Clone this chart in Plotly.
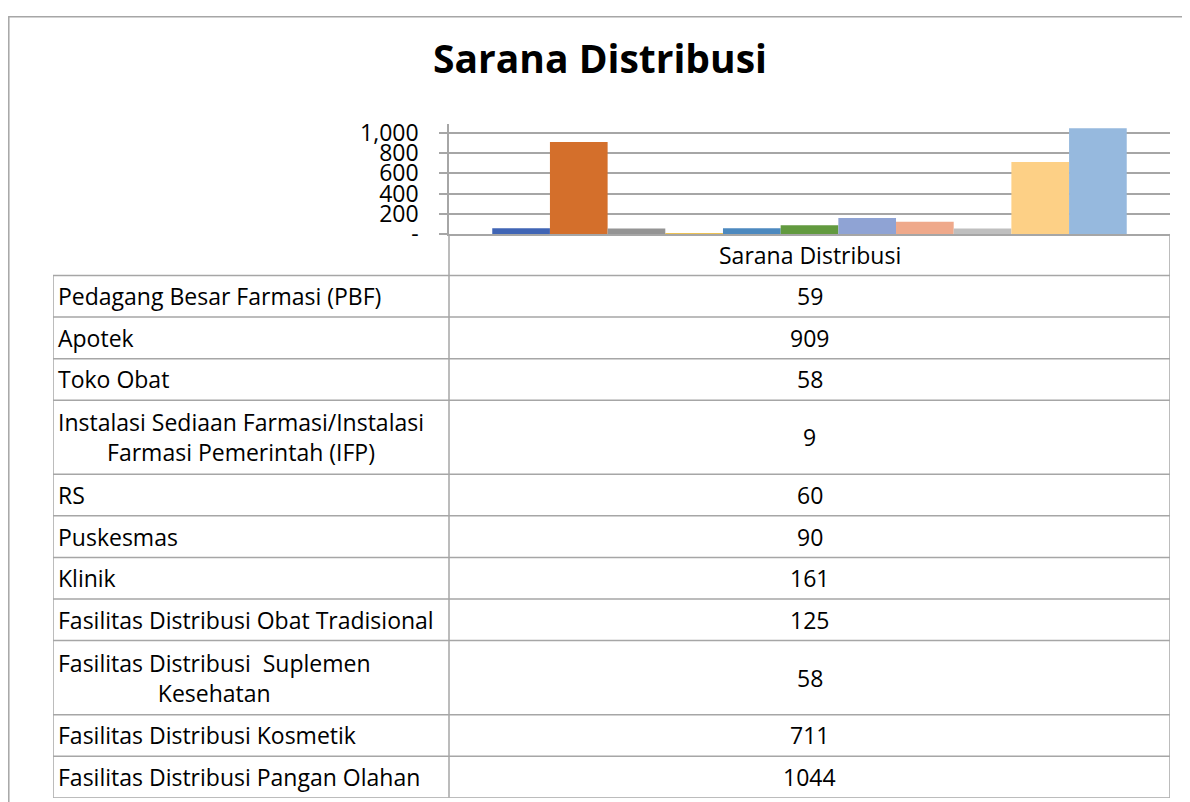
import plotly.graph_objects as go

# ==========================
# DATA
# ==========================

TITLE = "Sarana Distribusi"
CATEGORY = "Sarana Distribusi"

labels = [
    "Pedagang Besar Farmasi (PBF)",
    "Apotek",
    "Toko Obat",
    "Instalasi Sediaan Farmasi/Instalasi Farmasi Pemerintah (IFP)",
    "RS",
    "Puskesmas",
    "Klinik",
    "Fasilitas Distribusi Obat Tradisional",
    "Fasilitas Distribusi  Suplemen Kesehatan",
    "Fasilitas Distribusi Kosmetik",
    "Fasilitas Distribusi Pangan Olahan",
]

values = [59, 909, 58, 9, 60, 90, 161, 125, 58, 711, 1044]

colors = [
    "#4065B5", "#D46F2B", "#949494", "#E6AD1A", "#4C89BF", "#629A3F",
    "#8FA3D4", "#EFA98B", "#BFBFBF", "#FDD086", "#96B9DE",
]

y_ticks = [0, 200, 400, 600, 800, 1000]
y_tick_text = ["-", "200", "400", "600", "800", "1,000"]

# where the long labels wrap inside the data table
wrap_after = {3: "Instalasi Sediaan Farmasi/Instalasi", 8: "Fasilitas Distribusi  Suplemen"}

# ==========================
# STYLE / LAYOUT
# ==========================

FONT = "Open Sans"
GRID = "#A6A6A6"
W, H = 1174, 811
Y_OFF, Y_SCALE = 15, 0.97   # how the page ends up placed in the shot
LABEL_COL, VALUE_COL = 396, 721
EXTRA_LINE = 0.78           # row height added per extra text line


def px_x(v):
    return (v - 8) / W


def px_y(v):
    return 1 - ((v - Y_OFF) / Y_SCALE) / H


# wrapped table text
table_text = []
for i, lab in enumerate(labels):
    if i in wrap_after:
        first = wrap_after[i]
        rest = lab[len(first):].strip()
        table_text.append(first.replace("  ", " &nbsp;") + "<br>" + rest)
    else:
        table_text.append(lab)

n_lines = [t.count("<br>") + 1 for t in table_text]
row_h = [1 + EXTRA_LINE * (n - 1) for n in n_lines]
edges = [1.0]
for h in row_h:
    edges.append(edges[-1] + h)
total = edges[-1]
table_w = LABEL_COL + VALUE_COL

# ==========================
# FIGURE
# ==========================

fig = go.Figure()

for lab, val, col in zip(labels, values, colors):
    fig.add_trace(go.Bar(
        x=[CATEGORY], y=[val], name=lab,
        marker=dict(color=col, line=dict(width=0)),
        showlegend=False,
    ))

# anchor trace for the table axes
fig.add_trace(go.Scatter(
    x=[0, table_w], y=[0, total], mode="markers",
    marker=dict(opacity=0), xaxis="x2", yaxis="y2",
    hoverinfo="skip", showlegend=False,
))

shapes = [
    dict(type="rect", xref="paper", yref="paper",
         x0=px_x(8.8), x1=px_x(1300), y0=px_y(900), y1=px_y(15.8),
         line=dict(color=GRID, width=1.5), fillcolor="rgba(0,0,0,0)",
         layer="below"),
]
line = dict(color=GRID, width=1.5)
# table horizontal lines
for e in edges:
    shapes.append(dict(type="line", xref="x2", yref="y2",
                       x0=0, x1=table_w, y0=e, y1=e, line=line))
# table vertical lines
shapes.append(dict(type="line", xref="x2", yref="y2",
                   x0=0, x1=0, y0=1, y1=total, line=line))
shapes.append(dict(type="line", xref="x2", yref="y2",
                   x0=LABEL_COL, x1=LABEL_COL, y0=0, y1=total, line=line))
shapes.append(dict(type="line", xref="x2", yref="y2",
                   x0=table_w, x1=table_w, y0=0, y1=total, line=line))

cell_font = dict(family=FONT, size=23, color="black")
annotations = [
    dict(text=CATEGORY, xref="x2", yref="y2",
         x=LABEL_COL + VALUE_COL / 2, y=0.5, showarrow=False,
         xanchor="center", yanchor="middle", font=cell_font),
]
for i, (txt, val) in enumerate(zip(table_text, values)):
    mid = (edges[i] + edges[i + 1]) / 2
    annotations.append(dict(
        text=txt, xref="x2", yref="y2", x=3, y=mid, showarrow=False,
        xanchor="left", yanchor="middle", align="center", font=cell_font,
    ))
    annotations.append(dict(
        text=str(val), xref="x2", yref="y2",
        x=LABEL_COL + VALUE_COL / 2, y=mid, showarrow=False,
        xanchor="center", yanchor="middle", font=cell_font,
    ))

fig.update_layout(
    width=W, height=H,
    margin=dict(l=0, r=0, t=0, b=0),
    paper_bgcolor="white",
    plot_bgcolor="rgba(0,0,0,0)",
    barmode="group",
    bargap=0.12,
    bargroupgap=0,
    title=dict(
        text="<b>" + TITLE + "</b>",
        x=px_x(600), xanchor="center",
        y=px_y(65), yanchor="middle",
        font=dict(family=FONT, size=39, color="black"),
    ),
    xaxis=dict(
        domain=[px_x(449), px_x(1170)],
        showticklabels=False, showgrid=False, zeroline=False,
        showline=True, linecolor=GRID, linewidth=2, layer="above traces",
    ),
    yaxis=dict(
        domain=[px_y(233), px_y(123)],
        range=[0, 1084],
        tickvals=y_ticks, ticktext=y_tick_text,
        tickfont=dict(family=FONT, size=23, color="black"),
        ticks="outside", ticklen=8, tickcolor=GRID, tickwidth=1.5,
        ticklabelstandoff=16,
        showgrid=True, gridcolor=GRID, gridwidth=1.5,
        zeroline=False,
        showline=True, linecolor=GRID, linewidth=1.5,
    ),
    xaxis2=dict(
        domain=[px_x(53), px_x(1170)], range=[0, table_w],
        visible=False, anchor="y2",
    ),
    yaxis2=dict(
        domain=[px_y(795.5), px_y(232.5)], range=[total, 0],
        visible=False, anchor="x2",
    ),
    shapes=shapes,
    annotations=annotations,
)

fig.write_html("out.html")
